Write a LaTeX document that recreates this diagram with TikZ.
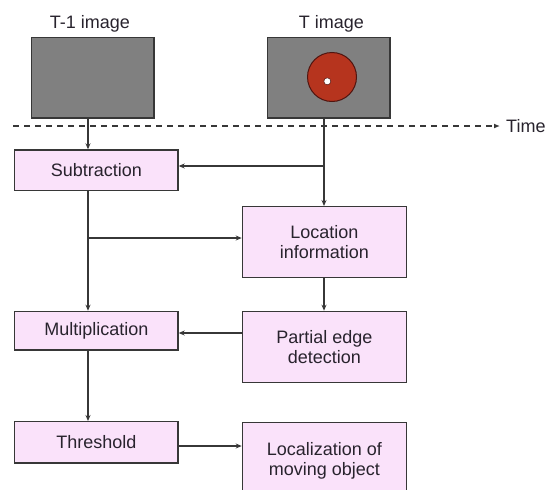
\documentclass[tikz,border=0pt]{standalone}
\usepackage{fontspec}
\setmainfont{Liberation Sans}
\usetikzlibrary{arrows.meta}
\definecolor{boxpink}{RGB}{250,226,250}
\definecolor{linec}{RGB}{55,55,55}
\definecolor{textc}{RGB}{40,35,45}
\definecolor{imggray}{RGB}{128,128,128}
\definecolor{blobred}{RGB}{182,52,30}
\definecolor{blobedge}{RGB}{80,20,15}
\begin{document}
\begin{tikzpicture}[x=1pt,y=-1pt,
  procbox/.style={draw=linec, fill=boxpink, line width=1.4pt, inner sep=0pt,
    anchor=north west, align=center, text=textc,
    font=\fontsize{18}{20}\selectfont},
  imgbox/.style={draw=linec, fill=imggray, line width=1.4pt, inner sep=0pt,
    anchor=north west, minimum width=122.6pt, minimum height=80.6pt},
  lbl/.style={text=textc, inner sep=0pt, font=\fontsize{18}{20}\selectfont},
  conn/.style={draw=linec, line width=1.6pt},
  arr/.style={conn, -{Stealth[length=6pt,width=5pt]}}
]
\useasboundingbox (0,0) rectangle (549,490);
\clip (0,0) rectangle (549,490);

% input frames
\node[imgbox] (prev) at (30.7,36.7) {};
\node[imgbox] (curr) at (266.8,36.7) {};
\node[lbl] (prevlbl) at (90,23.5) {T-1 image};
\node[lbl] (currlbl) at (331.5,23.5) {T image};
\node[circle, draw=blobedge, fill=blobred, line width=1pt, minimum size=49pt,
  inner sep=0pt] (blob) at (332,77) {};
\node[circle, draw=blobedge, fill=white, line width=0.5pt, minimum size=7pt,
  inner sep=0pt] (dot) at (327.3,81.3) {};

% time axis
\coordinate (tstart) at (13,126);
\node[lbl, anchor=west] (time) at (506,126.5) {Time};
\draw[conn, line width=1.2pt, dash pattern=on 6pt off 5pt, -{Latex[length=6pt,width=5pt]}]
  (tstart) -- (tstart -| 500,0);

% processing blocks
\node[procbox, minimum width=163.3pt, minimum height=40.7pt] (sub) at (14,149.3) {Subtraction};
\node[procbox, minimum width=164pt, minimum height=70.7pt] (loc) at (241.7,206) {Location\\information};
\node[procbox, minimum width=163.3pt, minimum height=38.6pt] (mul) at (14,310.7) {Multiplication};
\node[procbox, minimum width=164pt, minimum height=71pt] (ped) at (241.7,310.7) {Partial edge\\detection};
\node[procbox, minimum width=163.3pt, minimum height=41.3pt] (thr) at (14,421) {Threshold};
\node[procbox, minimum width=164pt, minimum height=78pt] (lmo) at (241.7,421.5) {Localization of\\moving object};

% columns and junctions
\coordinate (colL) at (88,0);
\coordinate (colR) at (324,0);
\coordinate (jT) at (324,166);
\coordinate (jL) at (88,238);
\coordinate (rowM) at (0,333);
\coordinate (rowT) at (0,446);

% connectors
\draw[arr] (prev.south -| colL) -- (sub.north -| colL);
\draw[arr] (curr.south -| colR) -- (loc.north -| colR);
\draw[arr] (jT) -- (sub.east |- jT);
\draw[arr] (sub.south -| colL) -- (mul.north -| colL);
\draw[arr] (jL) -- (loc.west |- jL);
\draw[arr] (loc.south -| colR) -- (ped.north -| colR);
\draw[arr] (ped.west |- rowM) -- (mul.east |- rowM);
\draw[arr] (mul.south -| colL) -- (thr.north -| colL);
\draw[arr] (thr.east |- rowT) -- (lmo.west |- rowT);
\end{tikzpicture}
\end{document}
